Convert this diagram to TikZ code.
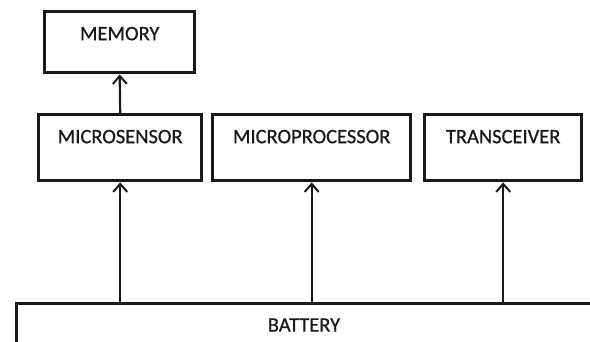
\documentclass[tikz,border=0pt]{standalone}
\usepackage{fontspec}
\setmainfont{Carlito}
\newfontfamily\boxfont{Carlito}[FakeBold=0.7]
\usetikzlibrary{arrows.meta}

\tikzset{
  unit/.style={draw=black!90, line width=3.4pt, inner sep=0pt, anchor=north west,
    text height=28.5pt, font=\boxfont\fontsize{20.5}{24}\selectfont, text=black!90},
  feed/.style={draw=black!90, line width=2.2pt, -{Straight Barb[length=8pt,width=14pt,line width=2pt]}}
}

\begin{document}
\begin{tikzpicture}[x=1pt,y=-1pt]
\useasboundingbox (0,0) rectangle (590,342);
\clip (0,0) rectangle (590,342);

\node [unit, minimum width=150pt, text depth=32.5pt] (mem) at (43,10) {MEMORY};

\node [unit, minimum width=163pt, text depth=37.5pt] (sens) at (37,113) {MICROSENSOR};
\node [unit, minimum width=198pt, text depth=37.5pt] (proc) at (211,113) {MICROPROCESSOR};
\node [unit, minimum width=157pt, text depth=37.5pt] (trx) at (423,113) {TRANSCEIVER};

\node [draw=black!90, line width=2.6pt, anchor=north west, minimum width=600pt, minimum height=80pt] (bat) at (15,302) {};
\node [font=\boxfont\fontsize{20.5}{24}\selectfont, text=black!90] (battxt) at (304,325) {BATTERY};

\draw [feed] (sens.north) -- (mem.south);
\draw [feed] (sens.south |- bat.north) -- (sens.south);
\draw [feed] (proc.south |- bat.north) -- (proc.south);
\draw [feed] (trx.south |- bat.north) -- (trx.south);
\end{tikzpicture}
\end{document}
